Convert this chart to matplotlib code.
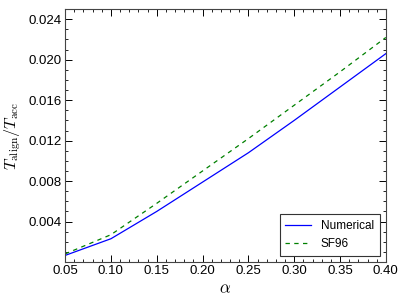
import matplotlib
matplotlib.use("Agg")
import matplotlib.pyplot as plt
from matplotlib.ticker import MultipleLocator

# alpha grid and alignment-time ratios
alpha = [0.05, 0.10, 0.15, 0.20, 0.25, 0.30, 0.35, 0.40]
numerical = [0.00065, 0.0023, 0.0050, 0.0079, 0.0108, 0.0140, 0.0173, 0.0206]
sf96 = [0.0008, 0.0027, 0.0058, 0.0090, 0.0122, 0.0155, 0.0188, 0.0222]

yticks = [0.004, 0.008, 0.012, 0.016, 0.020, 0.024]

plt.rcParams["font.family"] = ["Liberation Sans", "DejaVu Sans"]
plt.rcParams["mathtext.fontset"] = "cm"

fig = plt.figure(figsize=(4.07, 3.05), dpi=100)
ax = fig.add_axes([0.160, 0.141, 0.788, 0.829])

ax.plot(alpha, numerical, "-", color="blue", lw=0.9, label="Numerical")
ax.plot(alpha, sf96, "--", color="green", lw=0.9, dashes=(3.5, 3.5),
        label="SF96")

ax.set_xlim(0.05, 0.40)
ax.set_ylim(0.0, 0.025)
ax.set_xticks([0.05, 0.10, 0.15, 0.20, 0.25, 0.30, 0.35, 0.40])
ax.set_yticks(yticks)
ax.xaxis.set_minor_locator(MultipleLocator(0.01))
ax.yaxis.set_minor_locator(MultipleLocator(0.001))
ax.tick_params(which="both", direction="in", top=True, right=True,
               labelsize=9.5, pad=2.5)
ax.tick_params(which="major", length=5, width=0.7)
ax.tick_params(which="minor", length=2.5, width=0.6)
for s in ax.spines.values():
    s.set_linewidth(0.8)
    s.set_color("#444444")

ax.set_xlabel(r"$\alpha$", fontsize=12, labelpad=3)
ax.set_ylabel(r"$T_{\rm align}/T_{\rm acc}$", fontsize=11.5, labelpad=4)

leg = ax.legend(loc="lower right", fontsize=8.5, fancybox=False,
                edgecolor="#333333", framealpha=1, handlelength=2.2,
                borderpad=0.5)
leg.get_frame().set_linewidth(0.8)

fig.savefig("out.png", dpi=100)
